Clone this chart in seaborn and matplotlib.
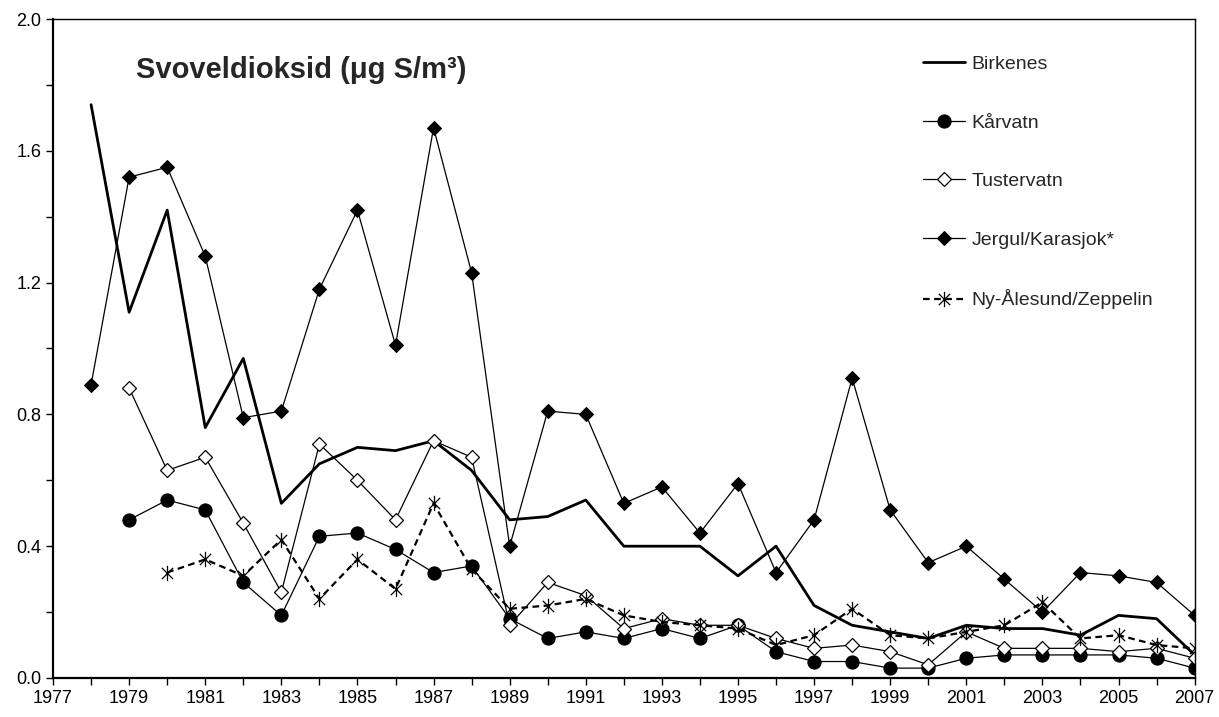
import numpy as np
import matplotlib
matplotlib.use("Agg")
import matplotlib.pyplot as plt
import seaborn as sns
from matplotlib.path import Path
from matplotlib.ticker import MultipleLocator, FixedLocator, FormatStrFormatter

# Data (annual means, ug S/m3)
years_birkenes = list(range(1978, 2008))
birkenes = [1.74, 1.11, 1.42, 0.76, 0.97, 0.53, 0.65, 0.70, 0.69, 0.72,
            0.63, 0.48, 0.49, 0.54, 0.40, 0.40, 0.40, 0.31, 0.40, 0.22,
            0.16, 0.14, 0.12, 0.16, 0.15, 0.15, 0.13, 0.19, 0.18, 0.07]

years_karvatn = list(range(1979, 2008))
karvatn = [0.48, 0.54, 0.51, 0.29, 0.19, 0.43, 0.44, 0.39, 0.32, 0.34,
           0.18, 0.12, 0.14, 0.12, 0.15, 0.12, 0.16, 0.08, 0.05, 0.05,
           0.03, 0.03, 0.06, 0.07, 0.07, 0.07, 0.07, 0.06, 0.03]

years_tustervatn = list(range(1979, 2008))
tustervatn = [0.88, 0.63, 0.67, 0.47, 0.26, 0.71, 0.60, 0.48, 0.72, 0.67,
              0.16, 0.29, 0.25, 0.15, 0.18, 0.16, 0.16, 0.12, 0.09, 0.10,
              0.08, 0.04, 0.14, 0.09, 0.09, 0.09, 0.08, 0.09, 0.06]

years_jergul = list(range(1978, 2008))
jergul = [0.89, 1.52, 1.55, 1.28, 0.79, 0.81, 1.18, 1.42, 1.01, 1.67,
          1.23, 0.40, 0.81, 0.80, 0.53, 0.58, 0.44, 0.59, 0.32, 0.48,
          0.91, 0.51, 0.35, 0.40, 0.30, 0.20, 0.32, 0.31, 0.29, 0.19]

years_nyalesund = list(range(1980, 2008))
nyalesund = [0.32, 0.36, 0.31, 0.42, 0.24, 0.36, 0.27, 0.53, 0.33, 0.21,
             0.22, 0.24, 0.19, 0.17, 0.16, 0.15, 0.10, 0.13, 0.21, 0.13,
             0.12, 0.14, 0.16, 0.23, 0.12, 0.13, 0.10, 0.09]

xtick_years = list(range(1977, 2008, 2))

sns.set_style("ticks")
plt.rcParams['font.family'] = ['Liberation Sans', 'DejaVu Sans']

fig = plt.figure(figsize=(12.19, 7.17), dpi=100)
ax = fig.add_axes([0.0435, 0.0544, 0.9365, 0.9191])

# Excel style asterisk: an x with a vertical bar
star = Path([(-1, -1), (1, 1), (-1, 1), (1, -1), (0, -1.35), (0, 1.35)],
            [Path.MOVETO, Path.LINETO, Path.MOVETO, Path.LINETO, Path.MOVETO, Path.LINETO])

sns.lineplot(x=years_birkenes, y=birkenes, ax=ax, color='black', lw=2.0,
             label='Birkenes')
sns.lineplot(x=years_karvatn, y=karvatn, ax=ax, color='black', lw=0.9,
             marker='o', markersize=9.5, markeredgecolor='black',
             markerfacecolor='black', label='Kårvatn')
sns.lineplot(x=years_tustervatn, y=tustervatn, ax=ax, color='black', lw=0.9,
             marker='D', markersize=7.5, markeredgecolor='black', markeredgewidth=0.9,
             markerfacecolor='white', label='Tustervatn')
sns.lineplot(x=years_jergul, y=jergul, ax=ax, color='black', lw=0.9,
             marker='D', markersize=7.5, markeredgecolor='black',
             markerfacecolor='black', label='Jergul/Karasjok*')
sns.lineplot(x=years_nyalesund, y=nyalesund, ax=ax, color='black', lw=1.6,
             linestyle=(0, (3, 2)), marker=star, markersize=11,
             markeredgecolor='black', markeredgewidth=0.9,
             label='Ny-Ålesund/Zeppelin')

ax.set_xlim(1977, 2007)
ax.set_ylim(0, 2.0)
ax.xaxis.set_major_locator(FixedLocator(xtick_years))
ax.xaxis.set_minor_locator(MultipleLocator(1))
ax.yaxis.set_major_locator(MultipleLocator(0.4))
ax.yaxis.set_minor_locator(MultipleLocator(0.2))
ax.yaxis.set_major_formatter(FormatStrFormatter('%.1f'))
ax.tick_params(which='both', direction='out', length=5, width=1, colors='black',
               labelsize=13)
ax.set_xlabel('')
ax.set_ylabel('')
for s in ax.spines.values():
    s.set_visible(True)
    s.set_color('black')
    s.set_linewidth(1.0)
ax.spines['bottom'].set_linewidth(1.6)
ax.spines['left'].set_linewidth(1.6)

ax.text(0.073, 0.922, 'Svoveldioksid (μg S/m³)', transform=ax.transAxes,
        fontsize=21, fontweight='bold', va='center', ha='left')

ax.legend(loc='upper left', bbox_to_anchor=(0.749, 0.936),
          bbox_transform=fig.transFigure, frameon=False, fontsize=14,
          borderpad=0, labelspacing=2.1, handlelength=2.15, handletextpad=0.35)

fig.savefig('out.png', dpi=100)
